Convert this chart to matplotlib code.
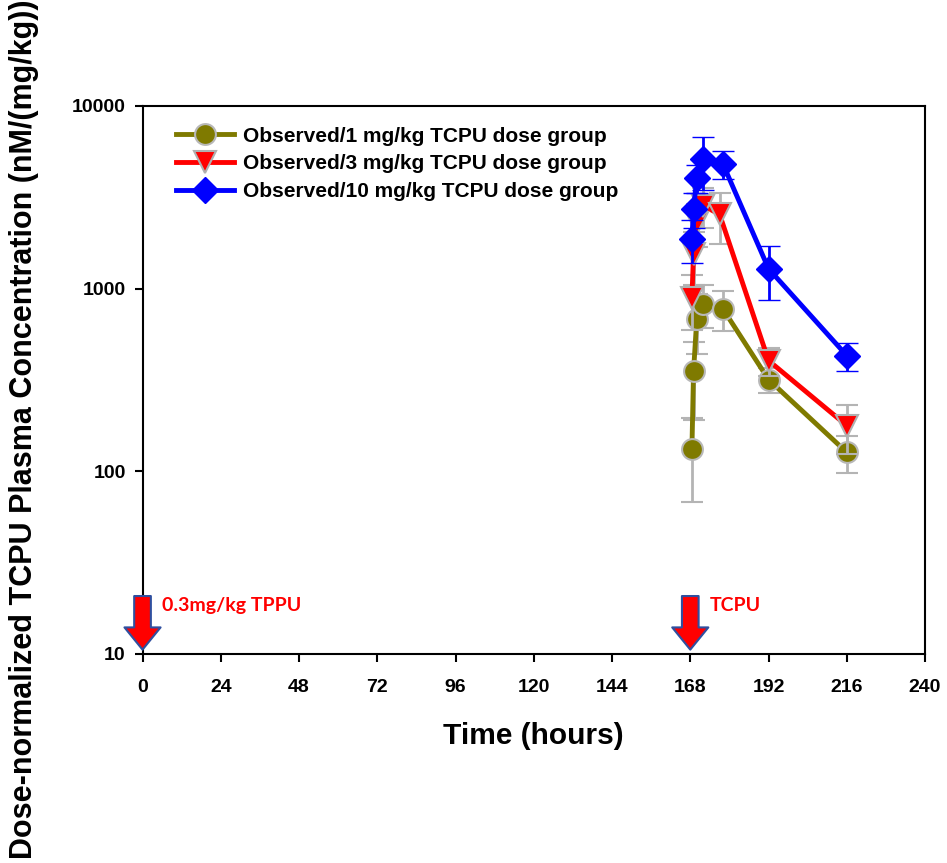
import matplotlib
matplotlib.use("Agg")
import matplotlib.pyplot as plt
from matplotlib.lines import Line2D

plt.rcParams['font.family'] = ['Liberation Sans', 'DejaVu Sans']

# sampling times (hours) and observed dose-normalized concentrations
t_1mg = [168.5, 169, 170, 172, 178, 192, 216]
c_1mg = [132, 352, 686, 828, 775, 318, 127]
sd_1mg = [64, 160, 250, 220, 190, 50, 29]

t_3mg = [168.5, 169, 170, 172, 177, 192, 216]
c_3mg = [893, 1553, 2300, 2844, 2550, 404, 178]
sd_3mg = [300, 500, 600, 700, 800, 72, 54]

t_10mg = [168.5, 169, 170, 172, 178, 192, 216]
c_10mg = [1877, 2735, 4040, 5130, 4820, 1286, 430]
sd_10mg = [500, 600, 700, 1650, 850, 420, 75]

xticks = [0, 24, 48, 72, 96, 120, 144, 168, 192, 216, 240]
yticks = [10, 100, 1000, 10000]
dose_times = [0, 168]
dose_labels = ['0.3mg/kg TPPU', 'TCPU']

fig = plt.figure(figsize=(9.47, 8.63), dpi=100)
ax = fig.add_axes([0.1505, 0.2422, 0.8263, 0.635])

gray = '#b4b4b4'
styles = [
    dict(color='#7f7a00', marker='o', ms=15, mfc='#7f7a00', mec='#b8b8b8', mew=1.5),
    dict(color='#ff0000', marker='v', ms=16, mfc='#ff0000', mec='#b0b0b0', mew=1.5),
    dict(color='#0000ff', marker='D', ms=13, mfc='#0000ff', mec='#0000ff', mew=1),
]
ecolors = [gray, gray, '#0000ff']
labels = ['Observed/1 mg/kg TCPU dose group',
          'Observed/3 mg/kg TCPU dose group',
          'Observed/10 mg/kg TCPU dose group']
series = [(t_1mg, c_1mg, sd_1mg), (t_3mg, c_3mg, sd_3mg), (t_10mg, c_10mg, sd_10mg)]

for i, (t, c, sd) in enumerate(series):
    ax.errorbar(t, c, yerr=sd, lw=3.5, ecolor=ecolors[i], elinewidth=2,
                capsize=8, capthick=2, zorder=3 + i, **styles[i])

ax.set_yscale('log')
ax.set_xlim(0, 240)
ax.set_ylim(10, 10000)
ax.set_xticks(xticks)
ax.set_xticklabels([str(v) for v in xticks])
ax.set_yticks(yticks)
ax.set_yticklabels([str(v) for v in yticks])
ax.minorticks_off()
ax.tick_params(direction='out', length=6, width=1.5, labelsize=14)
ax.tick_params(axis='x', pad=12)
ax.tick_params(axis='y', pad=6)
for lab in ax.get_xticklabels() + ax.get_yticklabels():
    lab.set_fontweight('bold')
for s in ax.spines.values():
    s.set_linewidth(1.5)

ax.set_xlabel('Time (hours)', fontsize=21.5, fontweight='bold', labelpad=19)
fig.text(0.025, 0.503, 'Dose-normalized TCPU Plasma Concentration (nM/(mg/kg))',
         rotation=90, ha='center', va='center', fontsize=22, fontweight='bold')

# dosing arrows
for xd, txt in zip(dose_times, dose_labels):
    ax.annotate('', xy=(xd, 10.2), xytext=(xd, 21.5),
                arrowprops=dict(arrowstyle='simple,head_length=0.8,head_width=1.3,tail_width=0.6',
                                fc='#ff0000', ec='#2f4f9f', lw=1.5, mutation_scale=20),
                zorder=6, annotation_clip=False)
    ax.text(xd + 6, 18.5, txt, color='#ff0000', fontsize=14, fontweight='bold',
            family=['Lato', 'DejaVu Sans'], va='center', ha='left')

handles = [Line2D([], [], lw=3.5, **st) for st in styles]
leg = ax.legend(handles, labels, loc='upper left', bbox_to_anchor=(0.027, 0.985),
                frameon=False, fontsize=15, handlelength=2.8, handletextpad=0.4,
                labelspacing=0.42, borderaxespad=0.2)
for txt in leg.get_texts():
    txt.set_fontweight('bold')

fig.savefig('out.png', dpi=100)
